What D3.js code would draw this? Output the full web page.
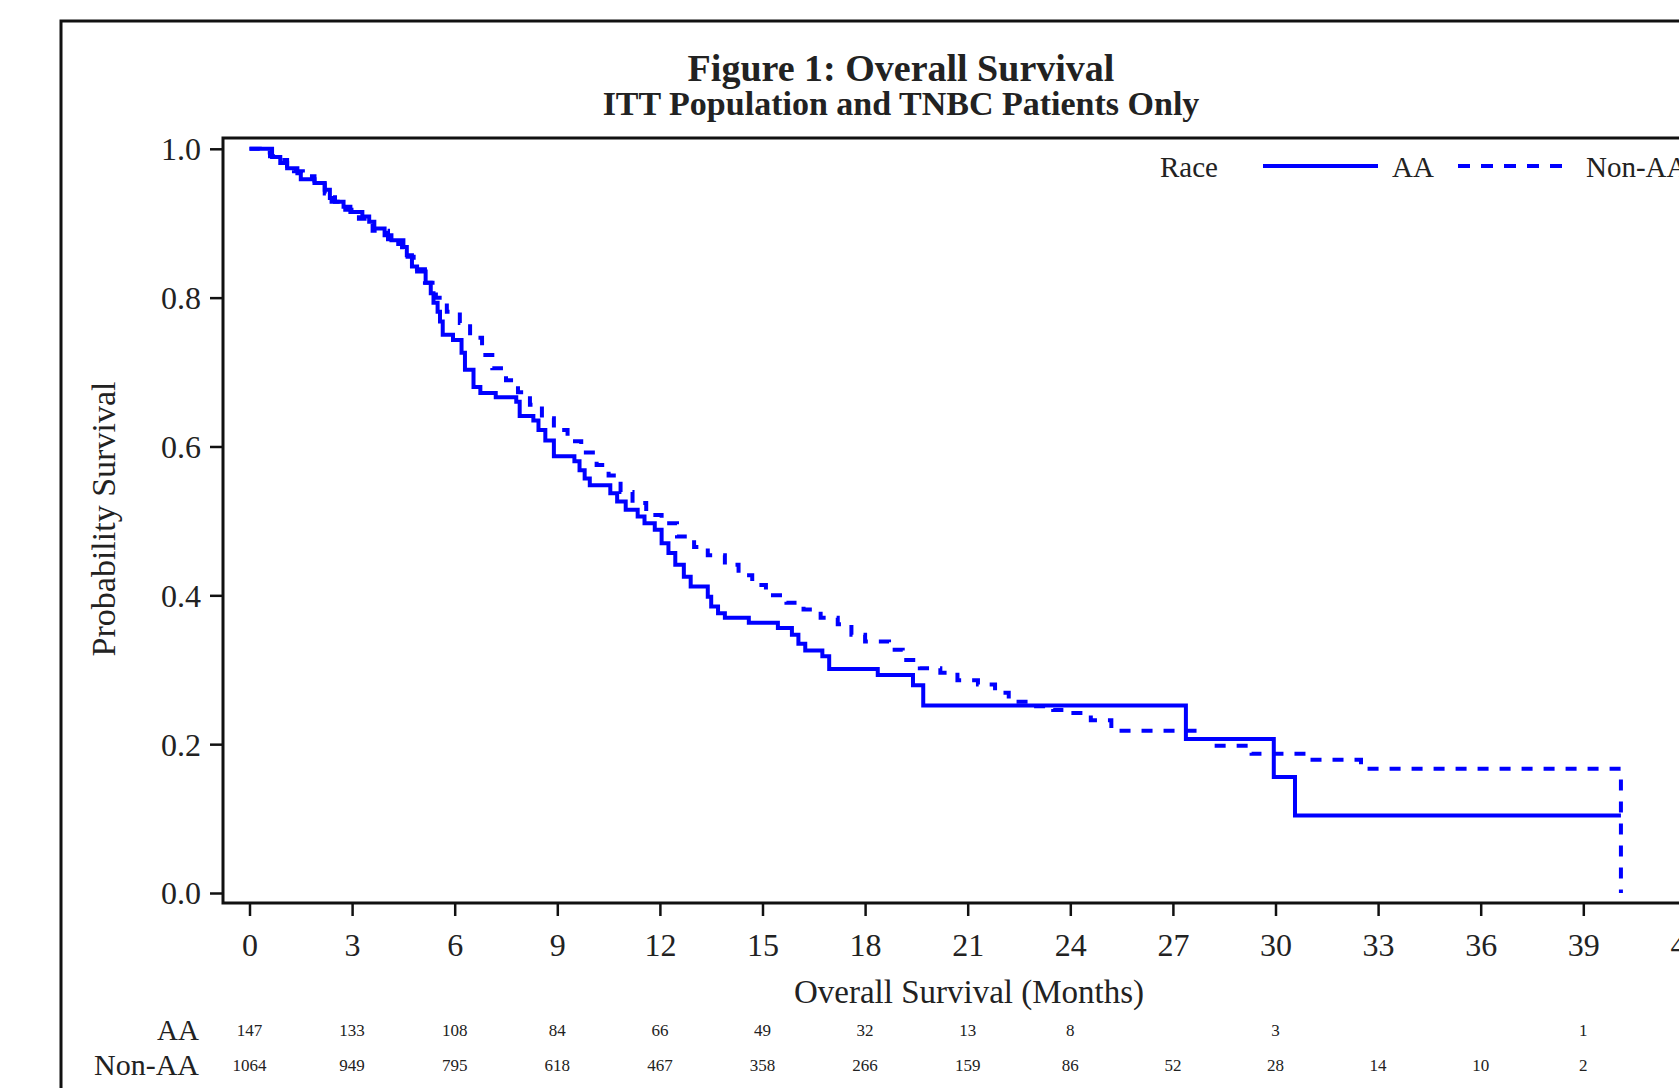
<!DOCTYPE html>
<html>
<head>
<meta charset="utf-8">
<script src="https://cdn.jsdelivr.net/npm/d3@7"></script>
<style>
  html, body { margin: 0; padding: 0; background: #fff; overflow: hidden; }
  svg { display: block; }
  text { font-family: "Liberation Serif", "Times New Roman", serif; fill: #222; }
</style>
</head>
<body>
<svg id="chart" width="1679" height="1088"></svg>
<script>
// ---- Data ----
const titleText = "Figure 1: Overall Survival";
const subtitleText = "ITT Population and TNBC Patients Only";
const xLabelText = "Overall Survival (Months)";
const yLabelText = "Probability Survival";
const groups = ["AA", "Non-AA"];

const xTicks = [0, 3, 6, 9, 12, 15, 18, 21, 24, 27, 30, 33, 36, 39, 42];
const yTicks = [0.0, 0.2, 0.4, 0.6, 0.8, 1.0];

// AA Kaplan-Meier step function: time (months) and survival after step
const aaTime = [0, 0.66, 0.9, 1.1, 1.4, 1.5, 1.9, 2.2, 2.35, 2.4, 2.75, 2.95, 3.3, 3.5, 3.65, 3.95, 4.15, 4.5, 4.6, 4.75, 4.9, 5.15, 5.3, 5.38, 5.5, 5.57, 5.65, 5.95, 6.2, 6.3, 6.55, 6.75, 7.2, 7.8, 7.9, 8.3, 8.45, 8.65, 8.9, 9.5, 9.65, 9.8, 9.95, 10.55, 10.75, 11.0, 11.35, 11.55, 11.85, 12.05, 12.25, 12.45, 12.7, 12.9, 13.4, 13.5, 13.7, 13.9, 14.6, 15.45, 15.86, 16.05, 16.25, 16.75, 16.95, 18.37, 19.4, 19.7, 27.38, 29.95, 30.57, 40.1];
const aaSurv = [1.0, 0.989, 0.981, 0.974, 0.967, 0.959, 0.954, 0.945, 0.934, 0.929, 0.922, 0.915, 0.909, 0.902, 0.893, 0.884, 0.877, 0.868, 0.857, 0.842, 0.835, 0.82, 0.806, 0.793, 0.781, 0.768, 0.75, 0.743, 0.726, 0.703, 0.68, 0.672, 0.666, 0.66, 0.641, 0.635, 0.622, 0.608, 0.587, 0.58, 0.568, 0.557, 0.548, 0.537, 0.526, 0.515, 0.506, 0.497, 0.488, 0.47, 0.457, 0.441, 0.425, 0.412, 0.398, 0.385, 0.376, 0.37, 0.363, 0.356, 0.347, 0.335, 0.326, 0.318, 0.301, 0.293, 0.279, 0.252, 0.207, 0.156, 0.104, 0.104];

// Non-AA Kaplan-Meier step function
const nonTime = [0, 0.3, 0.6, 0.83, 1.1, 1.3, 1.56, 1.9, 2.2, 2.5, 2.8, 3.2, 3.6, 4.05, 4.46, 4.8, 5.13, 5.45, 5.77, 6.15, 6.45, 6.8, 7.1, 7.5, 7.85, 8.2, 8.55, 8.9, 9.3, 9.7, 10.15, 10.5, 10.85, 11.2, 11.6, 12.05, 12.5, 13.0, 13.4, 13.9, 14.3, 14.7, 15.1, 15.7, 16.2, 16.7, 17.2, 17.6, 18.0, 18.7, 19.1, 19.6, 20.2, 20.7, 21.3, 21.8, 22.2, 22.9, 23.5, 24.0, 24.6, 25.2, 27.7, 28.1, 29.3, 31.0, 32.5, 40.1];
const nonSurv = [1.0, 0.995, 0.99, 0.985, 0.977, 0.97, 0.963, 0.952, 0.94, 0.929, 0.918, 0.906, 0.89, 0.872, 0.855, 0.838, 0.82, 0.8, 0.781, 0.766, 0.746, 0.723, 0.705, 0.689, 0.673, 0.656, 0.638, 0.622, 0.607, 0.592, 0.575, 0.561, 0.539, 0.524, 0.508, 0.497, 0.479, 0.465, 0.454, 0.441, 0.427, 0.414, 0.40, 0.39, 0.381, 0.37, 0.361, 0.347, 0.338, 0.327, 0.313, 0.302, 0.296, 0.286, 0.28, 0.269, 0.257, 0.251, 0.246, 0.242, 0.232, 0.218, 0.207, 0.198, 0.187, 0.179, 0.167, 0.0];

// Numbers at risk
const riskTimes = [0, 3, 6, 9, 12, 15, 18, 21, 24, 27, 30, 33, 36, 39];
const aaRisk = [147, 133, 108, 84, 66, 49, 32, 13, 8, null, 3, null, null, 1];
const nonRisk = [1064, 949, 795, 618, 467, 358, 266, 159, 86, 52, 28, 14, 10, 2];

// ---- Layout ----
const svg = d3.select("#chart");
const axisLeftX = 223, frameTop = 138, axisBottomY = 903;
const x = d3.scaleLinear().domain([0, 42]).range([249.5, 249.5 + 14 * 102.6]);
const y = d3.scaleLinear().domain([0, 1]).range([893, 148.8]);
const blue = "#0000ff";

// outer frame
svg.append("rect").attr("x", 61).attr("y", 21).attr("width", 1700).attr("height", 1200)
  .attr("fill", "none").attr("stroke", "#111").attr("stroke-width", 3);

// titles
svg.append("text").attr("x", 901).attr("y", 81).attr("text-anchor", "middle")
  .style("font-size", "38px").style("font-weight", "bold").text(titleText);
svg.append("text").attr("x", 901).attr("y", 115).attr("text-anchor", "middle")
  .style("font-size", "34px").style("font-weight", "bold").text(subtitleText);

// curves
const line = d3.line().x(d => x(d[0])).y(d => y(d[1])).curve(d3.curveStepAfter);
const aaPts = aaTime.map((t, i) => [t, aaSurv[i]]);
const nonPts = nonTime.map((t, i) => [t, nonSurv[i]]);

svg.append("path").datum(nonPts).attr("d", line).attr("fill", "none")
  .attr("stroke", blue).attr("stroke-width", 4).attr("stroke-dasharray", "11,11");
svg.append("path").datum(aaPts).attr("d", line).attr("fill", "none")
  .attr("stroke", blue).attr("stroke-width", 4);

// axes
const xAxis = d3.axisBottom(x).tickValues(xTicks).tickSize(13).tickSizeOuter(0).tickFormat(d3.format("d"));
const gx = svg.append("g").attr("transform", `translate(0,${axisBottomY})`).call(xAxis);
gx.select(".domain").remove();
gx.selectAll(".tick line").attr("stroke", "#111").attr("stroke-width", 2.5);
gx.selectAll(".tick text").attr("y", 53).attr("dy", null)
  .style("font-size", "32px").style("font-family", "Liberation Serif, serif").attr("fill", "#222");

const yAxis = d3.axisLeft(y).tickValues(yTicks).tickSize(13).tickSizeOuter(0).tickFormat(d3.format(".1f"));
const gy = svg.append("g").attr("transform", `translate(${axisLeftX},0)`).call(yAxis);
gy.select(".domain").remove();
gy.selectAll(".tick line").attr("stroke", "#111").attr("stroke-width", 2.5);
gy.selectAll(".tick text").attr("x", -22).attr("dy", "0.34em")
  .style("font-size", "32px").style("font-family", "Liberation Serif, serif").attr("fill", "#222");

// plot frame (left, top, bottom lines)
svg.append("path")
  .attr("d", `M1700,${frameTop}H${axisLeftX}V${axisBottomY}H1700`)
  .attr("fill", "none").attr("stroke", "#111").attr("stroke-width", 3);

// axis labels
svg.append("text").attr("x", 969).attr("y", 1003).attr("text-anchor", "middle")
  .style("font-size", "33px").text(xLabelText);
svg.append("text").attr("transform", "translate(115,519) rotate(-90)").attr("text-anchor", "middle")
  .style("font-size", "34px").text(yLabelText);

// legend
const legY = 166;
svg.append("text").attr("x", 1160).attr("y", legY + 11).style("font-size", "29px").text("Race");
svg.append("line").attr("x1", 1263).attr("x2", 1378).attr("y1", legY).attr("y2", legY)
  .attr("stroke", blue).attr("stroke-width", 4);
svg.append("text").attr("x", 1392).attr("y", legY + 11).style("font-size", "29px").text(groups[0]);
svg.append("line").attr("x1", 1458).attr("x2", 1571).attr("y1", legY).attr("y2", legY)
  .attr("stroke", blue).attr("stroke-width", 4).attr("stroke-dasharray", "12,11");
svg.append("text").attr("x", 1586).attr("y", legY + 11).style("font-size", "29px").text(groups[1]);

// numbers at risk
const rowY = [1036, 1071];
const rows = [aaRisk, nonRisk];
rows.forEach((vals, r) => {
  svg.append("text").attr("x", 199).attr("y", rowY[r] + 4).attr("text-anchor", "end")
    .style("font-size", groups[r] === "AA" ? "29px" : "30px").text(groups[r]);
  svg.append("g").selectAll("text").data(riskTimes.map((t, i) => ({t, v: vals[i]})).filter(d => d.v !== null))
    .join("text").attr("x", d => x(d.t)).attr("y", rowY[r]).attr("text-anchor", "middle")
    .style("font-size", "17px").text(d => d.v);
});
</script>
</body>
</html>
